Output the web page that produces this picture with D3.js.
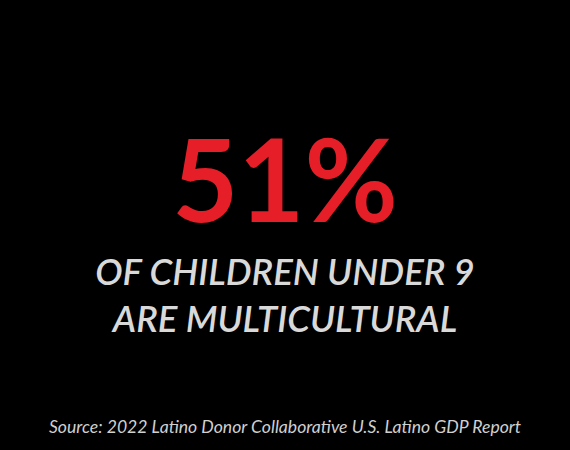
<!DOCTYPE html>
<html><head><meta charset="utf-8">
<script src="https://cdn.jsdelivr.net/npm/d3@7"></script>
<style>html,body{margin:0;background:#000;}</style>
</head><body>
<script>
const values = [51];
const labels = ["OF CHILDREN UNDER 9", "ARE MULTICULTURAL"];
const source = ["Source: 2022 Latino Donor Collaborative U.S. Latino GDP Report"];

const W = 570, H = 450;
const svg = d3.select("body").append("svg").attr("width", W).attr("height", H)
  .style("background", "#000").style("display","block");

svg.selectAll("text.big").data(values).enter().append("text")
  .attr("class","big")
  .attr("x", W/2).attr("y", 222)
  .attr("text-anchor","middle")
  .attr("font-family","Lato").attr("font-weight", 700)
  .attr("font-size", 114).attr("fill","#e61e28")
  .text(d => d + "%");

svg.selectAll("text.lab").data(labels).enter().append("text")
  .attr("class","lab")
  .attr("x", W/2).attr("y", (d,i) => 285 + i*47)
  .attr("text-anchor","middle")
  .attr("font-family","Lato").attr("font-weight", 600).attr("font-style","italic")
  .attr("font-size", 36.5).attr("fill","#d9d9d9")
  .text(d => d);

svg.selectAll("text.src").data(source).enter().append("text")
  .attr("class","src")
  .attr("x", W/2).attr("y", 433)
  .attr("text-anchor","middle")
  .attr("font-family","Lato").attr("font-style","italic")
  .attr("font-size", 17.6).attr("fill","#d0d0d0")
  .text(d => d);
</script>
</body></html>
